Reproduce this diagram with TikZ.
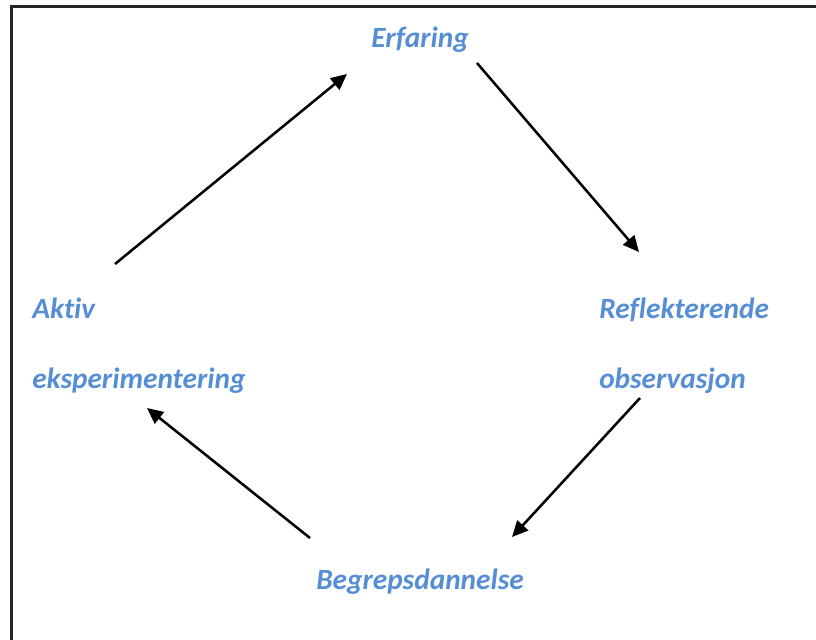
\documentclass[tikz,border=0pt]{standalone}
\usepackage{fontspec}
\setmainfont{Carlito}[Ligatures=NoCommon]
\usetikzlibrary{arrows.meta}
\definecolor{stageblue}{RGB}{85,142,213}
\begin{document}
\begin{tikzpicture}[x=0.75pt,y=-0.75pt,
  stage/.style={inner sep=0pt, anchor=base west, text=stageblue,
    font=\fontsize{22}{26}\selectfont\bfseries\itshape},
  flow/.style={line width=1.9pt, -{Triangle[length=12pt,width=11pt]}}]
\useasboundingbox (0,0) rectangle (816,639);
\clip (0,0) rectangle (816,639);
% outer frame (runs off the right and bottom edges)
\draw[line width=2pt, black!85] (11.5,6.5) rectangle (840,680);
% the four stages of the cycle
\node[stage] (erf) at (371,47) {Erfaring};
\node[stage] (ref1) at (599,318) {Reflekterende};
\node[stage] (ref2) at (599,388) {observasjon};
\node[stage] (beg) at (316,589) {Begrepsdannelse};
\node[stage] (akt1) at (32,318) {Aktiv};
\node[stage] (akt2) at (32,388) {eksperimentering};
% connector end points
\coordinate (a1s) at (115,264); \coordinate (a1e) at (347,74);
\coordinate (a2s) at (477,63);  \coordinate (a2e) at (639,252);
\coordinate (a3s) at (640,398); \coordinate (a3e) at (512,537);
\coordinate (a4s) at (310,538); \coordinate (a4e) at (147,408);
\draw[flow] (a1s) -- (a1e);
\draw[flow] (a2s) -- (a2e);
\draw[flow] (a3s) -- (a3e);
\draw[flow] (a4s) -- (a4e);
\end{tikzpicture}
\end{document}
